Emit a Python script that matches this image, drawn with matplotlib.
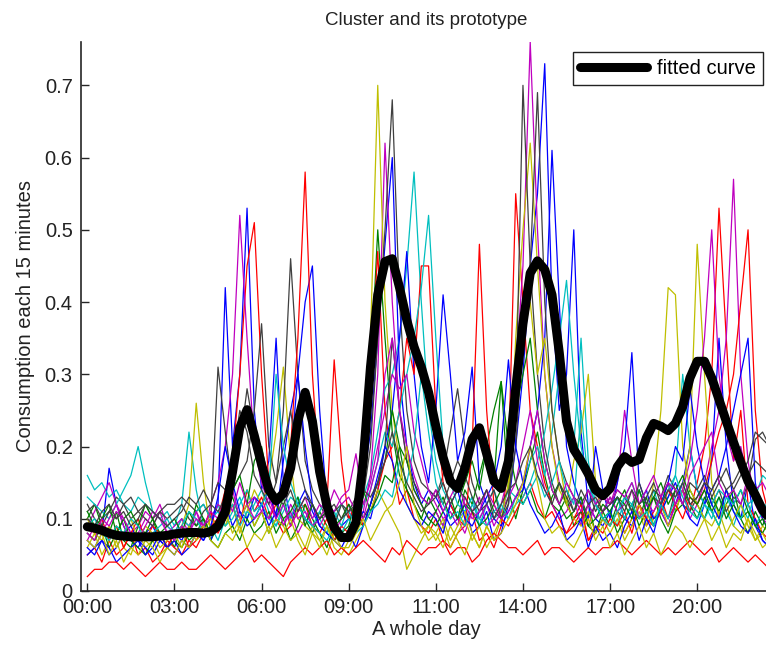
import matplotlib
matplotlib.use("Agg")
import matplotlib.pyplot as plt
import numpy as np
from matplotlib.ticker import FuncFormatter

plt.rcParams['font.family'] = ['Liberation Sans', 'DejaVu Sans']

tick_labels = ["00:00", "03:00", "06:00", "09:00", "11:00", "14:00", "17:00", "20:00"]
tick_index = [0, 12, 24, 36, 48, 60, 72, 84]

# consumption of each member of the cluster (hundredths), 96 quarter-hours
s01 = [7,6,8,17,12,9,7,6,8,9,7,6, 8,7,9,8,7,9,12,42,20,30,53,25, 14,18,35,15,10,12,14,11,9,8,7,9,
       10,12,15,22,35,48,60,30,20,15,12,14, 13,11,9,10,12,8,9,11,7,8,12,20, 30,45,55,73,40,25,30,50,22,12,10,9,
       11,13,10,9,12,14,10,11,9,12,15,20, 14,12,18,35,20,12,10,15,9,7,6,5]
s02 = [10,12,9,8,11,7,6,9,8,10,7,8, 6,9,7,8,10,7,9,11,13,10,12,9, 11,8,10,13,9,12,10,8,11,9,7,8,
       9,13,18,30,50,35,22,16,14,12,10,13, 11,9,12,10,14,12,16,20,15,29,14,10, 14,18,22,16,12,11,13,9,10,12,8,11,
       9,12,14,11,10,13,9,12,15,11,14,12, 10,13,11,9,12,14,10,8,11,9,12,10]
s03 = [5,6,4,7,5,6,8,5,6,4,5,7, 6,5,7,6,8,9,10,14,18,30,45,51, 30,15,10,8,9,11,12,9,8,10,7,9,
       8,10,15,30,47,25,18,12,14,10,9,8, 10,7,6,8,9,11,7,8,6,9,18,55, 40,25,20,15,12,10,8,9,11,7,8,10,
       9,11,8,10,12,9,11,13,10,12,14,11, 15,20,30,53,35,18,25,12,10,8,7,6]
s04 = [16,14,15,13,14,12,11,13,12,11,10,11, 9,12,22,14,9,10,12,9,11,13,10,12, 14,11,9,12,10,13,11,9,10,8,11,9,
       12,10,13,16,22,28,30,35,45,58,40,25, 18,14,12,10,11,13,9,12,10,11,14,13, 15,18,20,16,22,30,25,20,35,18,12,10,
       11,9,13,15,12,10,14,11,13,16,30,20, 14,12,10,13,11,9,12,10,14,12,10,11]
s05 = [9,11,13,15,12,10,8,9,11,10,12,9, 8,10,9,11,8,12,15,20,30,52,35,20, 15,12,10,9,11,8,10,12,9,11,8,10,
       12,9,11,16,30,62,40,25,18,14,12,10, 11,9,12,10,8,11,13,9,10,12,16,30, 45,76,50,30,20,15,12,10,11,9,12,14,
       12,15,25,18,12,10,13,11,9,12,14,10, 12,15,20,25,35,57,30,18,12,10,9,11]
s06 = [6,8,5,7,9,6,5,8,6,7,5,6, 7,9,12,26,15,8,10,9,12,8,11,14, 12,15,22,31,18,10,9,8,7,9,6,5,
       7,9,14,35,70,40,25,18,12,10,8,9, 7,9,6,8,10,7,9,6,8,10,12,35, 50,62,45,30,20,14,12,18,22,30,15,10,
       8,10,7,9,11,8,10,12,9,11,14,20, 48,30,15,10,12,9,8,10,7,9,8,10]
s07 = [11,12,10,11,13,12,10,11,12,10,11,12, 12,13,12,11,12,10,31,22,14,16,18,25, 37,20,15,25,46,30,18,14,12,10,11,12,
       10,11,13,20,35,50,68,40,25,18,15,14, 13,16,22,28,20,15,12,14,11,10,12,25, 70,45,30,20,15,12,14,11,13,10,12,11,
       13,11,10,12,14,11,13,12,10,14,12,11, 13,15,12,14,11,13,12,15,21,22,20,21]
s08 = [5,6,7,5,6,8,9,7,6,5,7,6, 5,7,6,8,9,7,10,12,9,11,10,13, 12,14,10,18,25,30,40,45,25,12,9,8,
       7,9,11,10,14,20,25,35,47,30,20,15, 25,41,30,18,22,31,15,12,10,9,11,13, 14,20,25,35,61,40,20,15,12,10,20,14,
       10,15,20,33,15,12,10,11,13,15,12,10, 9,12,14,16,20,25,30,35,15,10,8,9]
s09 = [8,7,9,6,8,10,7,6,5,7,8,6, 7,6,8,12,10,7,6,8,9,7,10,8, 9,11,8,10,7,9,12,10,8,6,9,7,
       8,10,9,12,15,18,25,20,14,12,10,9, 11,13,10,12,15,18,14,20,25,29,20,15, 12,14,11,10,13,15,12,10,11,9,8,10,
       11,8,10,12,9,11,13,10,8,11,12,14, 12,10,13,11,14,12,10,11,9,8,10,12]
s10 = [9,8,10,7,9,6,8,10,7,9,8,6, 8,9,6,7,9,11,8,10,12,9,14,11, 13,10,12,15,20,35,58,30,15,12,32,18,
       10,12,9,11,14,18,20,25,35,30,45,45, 25,15,12,10,9,20,48,25,12,10,9,11, 13,15,12,10,11,9,8,10,12,7,9,8,
       10,9,11,8,12,10,9,11,14,12,10,13, 12,14,18,22,25,30,40,50,25,14,10,8]
s11 = [13,12,11,10,12,14,16,20,15,11,10,9, 8,10,9,11,12,10,11,9,10,12,14,11, 12,10,9,11,13,12,10,9,11,13,10,12,
       11,9,12,14,18,22,20,25,30,35,42,52, 35,20,15,12,11,13,10,12,14,11,10,12, 13,15,18,22,28,35,43,30,20,15,12,10,
       11,13,10,12,14,11,9,12,10,13,15,12, 11,10,12,14,13,11,10,12,9,11,13,10]
s12 = [7,9,8,10,12,9,7,8,10,9,11,8, 9,10,8,11,9,10,12,11,14,10,12,13, 11,10,13,9,12,10,11,9,10,12,11,13,
       14,19,12,15,20,25,30,28,30,22,18,14, 12,10,11,9,13,11,10,12,9,11,13,15, 20,25,18,14,12,10,11,13,9,12,10,11,
       13,11,12,14,10,12,11,13,15,12,14,18, 25,35,50,30,22,18,20,15,13,11,12,10]
s13 = [10,8,7,9,6,8,10,7,9,8,6,7, 8,6,9,7,8,10,9,11,8,10,12,9, 11,8,10,9,7,8,6,9,7,5,8,6,
       5,7,9,11,14,12,10,8,3,5,7,9, 8,10,7,9,11,8,6,9,7,10,15,25, 35,40,30,35,25,18,12,10,9,11,8,10,
       9,11,8,10,12,9,15,25,42,41,20,14, 12,10,9,11,8,10,12,9,7,8,6,9]
s14 = [12,10,9,11,10,12,13,11,10,9,11,10, 11,12,10,9,11,12,15,14,18,25,22,16, 14,12,15,20,25,18,14,12,10,11,9,12,
       11,13,10,12,15,20,35,25,18,15,13,12, 14,12,15,18,16,13,11,12,14,10,13,20, 35,45,69,40,25,18,15,13,12,14,11,13,
       12,14,13,11,15,12,14,13,16,14,12,15, 14,16,13,15,17,14,16,18,22,21,20,22]
s15 = [6,5,7,6,4,5,6,7,5,6,8,6, 7,5,6,8,7,9,13,20,15,11,9,10, 12,9,11,14,18,30,20,12,9,8,7,6,
       8,6,9,12,16,20,18,14,12,10,9,11, 10,8,12,14,10,9,11,13,15,20,32,20, 15,12,10,8,9,11,7,8,10,6,9,7,
       8,6,9,11,7,10,8,12,15,20,18,28, 20,15,12,10,14,11,9,8,10,7,6,8]
s16 = [11,9,10,12,8,10,11,9,12,10,8,9, 10,8,11,9,10,8,9,12,14,16,12,18, 20,15,12,10,11,13,9,12,10,11,9,10,
       12,10,14,11,13,16,15,20,18,14,12,10, 9,11,13,10,12,11,9,10,12,14,18,25, 30,35,25,18,14,12,10,11,13,9,10,12,
       11,13,12,10,14,11,13,15,12,14,16,13, 12,14,11,13,10,12,14,11,9,10,8,11]
s17 = [2,3,3,4,4,3,4,3,2,3,4,3, 3,4,3,3,4,5,4,3,4,5,6,4, 5,4,3,2,4,5,6,5,6,7,5,6,
       5,6,7,6,5,4,6,5,7,6,5,6, 6,7,5,6,6,4,5,7,8,7,6,6, 5,6,7,5,6,6,5,4,5,6,5,6,
       6,7,6,5,6,7,6,5,6,5,6,7, 6,5,6,4,5,6,5,4,5,4,3,4]
s18 = [9,10,8,7,9,8,10,9,7,8,9,10, 8,9,11,10,8,9,7,10,12,9,11,10, 12,14,30,20,15,12,10,9,8,7,9,8,
       10,8,9,11,12,14,13,18,15,20,30,22, 15,12,10,11,9,12,10,9,11,12,10,13, 12,14,16,13,15,18,14,12,25,15,12,10,
       9,11,13,12,10,11,9,12,14,16,13,11, 10,12,11,9,13,12,14,12,13,16,15,12]
s19 = [8,7,10,9,11,10,8,7,9,11,10,8, 7,9,8,10,9,11,10,13,11,15,12,10, 11,13,10,12,9,11,13,10,12,11,14,12,
       13,11,10,14,18,30,35,25,20,16,13,12, 14,11,13,15,12,10,11,14,12,10,11,13, 15,20,25,18,14,12,15,13,11,14,12,13,
       12,14,13,15,12,14,16,13,15,14,12,16, 18,20,22,15,13,14,12,16,14,15,13,12]
s20 = [7,6,8,5,7,4,6,5,7,6,4,6, 5,7,6,8,9,7,6,8,7,9,6,8, 7,9,6,8,10,7,5,8,6,9,7,6,
       6,8,10,7,9,11,12,15,20,12,9,7, 8,6,9,7,5,8,6,9,7,8,10,12, 15,20,15,10,8,9,7,6,8,10,7,9,
       6,8,5,7,9,6,8,5,7,9,8,6, 8,10,7,9,6,8,7,10,8,6,7,9]
s21 = [10,9,11,12,10,11,9,10,12,11,10,9, 10,11,13,12,14,12,11,13,15,20,28,22, 18,15,13,12,14,11,13,12,10,11,12,10,
       11,12,14,13,15,18,22,18,15,13,11,12, 13,15,12,14,13,11,12,14,10,12,14,15, 18,20,16,14,12,15,13,11,14,12,13,11,
       12,13,11,14,12,13,15,12,14,13,15,12, 13,15,14,16,14,15,17,16,18,17,16,15]

members = [s01, s02, s03, s04, s05, s06, s07, s08, s09, s10, s11, s12, s13, s14,
           s15, s16, s17, s18, s19, s20, s21]

# prototype (fitted curve), per quarter-hour
fitted = [0.089, 0.087, 0.084, 0.080, 0.077, 0.076, 0.075, 0.075, 0.075, 0.075, 0.076, 0.077,
          0.079, 0.080, 0.081, 0.081, 0.080, 0.082, 0.090, 0.110, 0.165, 0.226, 0.251, 0.215,
          0.175, 0.140, 0.125, 0.135, 0.170, 0.235, 0.275, 0.235, 0.165, 0.118, 0.088, 0.074,
          0.074, 0.095, 0.180, 0.310, 0.410, 0.456, 0.460, 0.420, 0.375, 0.338, 0.310, 0.275,
          0.228, 0.185, 0.152, 0.142, 0.170, 0.210, 0.226, 0.190, 0.152, 0.142, 0.180, 0.280,
          0.370, 0.440, 0.457, 0.445, 0.410, 0.330, 0.235, 0.196, 0.180, 0.162, 0.140, 0.132,
          0.142, 0.172, 0.186, 0.178, 0.182, 0.212, 0.232, 0.228, 0.222, 0.232, 0.255, 0.295,
          0.318, 0.318, 0.295, 0.265, 0.235, 0.206, 0.178, 0.152, 0.133, 0.112, 0.100, 0.090]

colors = [(0, 0, 1), (0, 0.5, 0), (1, 0, 0), (0, 0.75, 0.75),
          (0.75, 0, 0.75), (0.75, 0.75, 0), (0.25, 0.25, 0.25)]

W, H = 766, 650
fig = plt.figure(figsize=(W / 100, H / 100), dpi=100)
ax = fig.add_axes([81 / W, (H - 591) / H, (772 - 81) / W, (591 - 42) / H])

x = np.arange(96)
for k, s in enumerate(members):
    ax.plot(x, np.array(s) / 100.0, color=colors[k % 7], lw=0.9, zorder=2)

ax.plot(x, fitted, color='black', lw=6.5, solid_capstyle='round',
        solid_joinstyle='round', zorder=5, label='fitted curve')

ax.set_xlim(-0.87, 94.3)
ax.set_ylim(0, 0.76)
ax.set_xticks(tick_index)
ax.set_xticklabels(tick_labels)
ax.set_yticks(np.arange(0, 0.71, 0.1))
ax.yaxis.set_major_formatter(FuncFormatter(lambda v, p: "0" if abs(v) < 1e-9 else f"{v:.1f}"))

for sp in ['top', 'right']:
    ax.spines[sp].set_visible(False)
for sp in ['left', 'bottom']:
    ax.spines[sp].set_color('#262626')
    ax.spines[sp].set_linewidth(1.2)
ax.tick_params(direction='in', length=6, width=1.0, colors='#262626', labelsize=14.5,
               labelcolor='#222222', pad=5)
ax.tick_params(axis='y', pad=6)

ax.set_title('Cluster and its prototype', fontsize=13.5, color='#222222', pad=12)
ax.set_xlabel('A whole day', fontsize=14.5, color='#222222', labelpad=2)
ax.set_ylabel('Consumption each 15 minutes', fontsize=14.5, color='#222222', labelpad=7)

leg = ax.legend(loc='upper left', bbox_to_anchor=(573 / W, 1 - 52 / H),
                bbox_transform=fig.transFigure, fontsize=14.5, frameon=True,
                fancybox=False, borderaxespad=0, handlelength=3.3, borderpad=0.35,
                handletextpad=0.5)
leg.get_frame().set_edgecolor('#222222')
leg.get_frame().set_linewidth(1.0)
leg.get_frame().set_alpha(1)

fig.savefig('out.png', dpi=100)
